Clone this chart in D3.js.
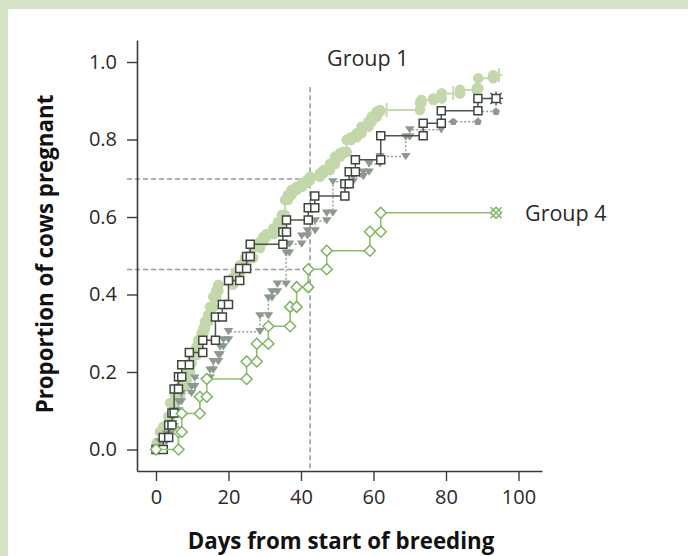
<!DOCTYPE html>
<html>
<head>
<meta charset="utf-8">
<script src="https://cdn.jsdelivr.net/npm/d3@7"></script>
<style>
  body { margin: 0; background: #fff; }
  svg { display: block; }
  text { font-family: "Open Sans", "Noto Sans", sans-serif; }
</style>
</head>
<body>
<div id="chart"></div>
<script>
// cumulative proportion pregnant: [day of event, proportion after event]
const group1Events = [
  [0.2, 0.017], [1.1, 0.046], [2, 0.059], [3.4, 0.085], [3.9, 0.12], [5.2, 0.14],
  [6.6, 0.162], [8, 0.179], [8.5, 0.2], [9.4, 0.222], [9.8, 0.244], [11.2, 0.265],
  [11.7, 0.283], [12.6, 0.3], [13.1, 0.313], [13.5, 0.33], [14.4, 0.347], [14.9, 0.368],
  [15.8, 0.394], [16.6, 0.41], [17.2, 0.425], [21.2, 0.443], [22.1, 0.458], [23.2, 0.476],
  [24.6, 0.494], [26.8, 0.52], [28.7, 0.536], [29.6, 0.549], [30.5, 0.556], [32.4, 0.571],
  [33.7, 0.587], [34.7, 0.605], [35.6, 0.644], [36.4, 0.657], [37.4, 0.67], [38.8, 0.678],
  [40.3, 0.688], [41.6, 0.695], [42.5, 0.704], [45.2, 0.713], [46.2, 0.721], [48, 0.737],
  [49.4, 0.756], [50.8, 0.765], [51.7, 0.768], [52.6, 0.799], [53.8, 0.806], [55.4, 0.816],
  [56.7, 0.833], [58.6, 0.846], [59.5, 0.859], [60.9, 0.872], [61.8, 0.876], [72.8, 0.894],
  [73.2, 0.902], [76.5, 0.906], [78.8, 0.919], [83.9, 0.928], [88.5, 0.932], [88.9, 0.958],
  [93, 0.966]
];
const group1Censored = [[63.6, 0.876], [82, 0.919], [94.6, 0.966]];
const group1End = 95.5;

const group2Events = [
  [2, 0.031], [3.5, 0.063], [4.4, 0.094], [5, 0.156], [6.2, 0.188], [7.1, 0.219],
  [9.2, 0.25], [12.9, 0.282], [16.4, 0.342], [18.3, 0.374], [20, 0.436], [23.1, 0.467],
  [25, 0.498], [26, 0.53], [35, 0.561], [36, 0.592], [42, 0.624], [43.8, 0.654],
  [52.1, 0.686], [53.3, 0.717], [55, 0.748], [62, 0.81], [73.7, 0.842], [78.7, 0.874],
  [88.8, 0.906]
];
const group2End = 93.8;

const group3Events = [
  [1.1, 0.02], [2.9, 0.04], [4, 0.059], [5, 0.1], [6.3, 0.123], [7, 0.145],
  [9.8, 0.162], [10.7, 0.184], [14.9, 0.205], [15.8, 0.227], [17.2, 0.244], [17.7, 0.265],
  [18.6, 0.283], [20, 0.304], [28.7, 0.345], [31, 0.391], [32, 0.407], [33.5, 0.427],
  [35.9, 0.507], [36.8, 0.53], [40.2, 0.551], [41.8, 0.564], [43.9, 0.59], [47.1, 0.61],
  [48.8, 0.691], [54.4, 0.704], [57.2, 0.716], [58.8, 0.737], [61.8, 0.756], [68.9, 0.806],
  [70, 0.825], [78.7, 0.846], [88.8, 0.872]
];
const group3Censored = [[82, 0.846]];
const group3End = 93.8;

const group4Events = [
  [6.2, 0.045], [7.1, 0.093], [12.1, 0.136], [14, 0.182], [25, 0.227], [27.8, 0.273],
  [31, 0.318], [37, 0.368], [38.8, 0.419], [42, 0.465], [47.1, 0.513], [59, 0.562],
  [62, 0.611]
];
const group4End = 93.8;

// reference lines
const refDay = 42.5;
const refLevels = [[0.698, 46], [0.4645, 42.5]];

const xTicks = [0, 20, 40, 60, 80, 100];
const yTicks = [0, 0.2, 0.4, 0.6, 0.8, 1.0];

// build the step path vertices from events
function stepVertices(events, endDay) {
  const pts = [[0, 0]];
  let prev = 0;
  events.forEach(([t, p]) => {
    pts.push([t, prev]);
    pts.push([t, p]);
    prev = p;
  });
  pts.push([endDay, prev]);
  return pts;
}

const w = 688;
const h = 556;

const svg = d3.select("#chart").append("svg")
  .attr("width", w)
  .attr("height", h);

// frame
svg.append("rect").attr("width", w).attr("height", h).attr("fill", "#d5e2c5");
svg.append("rect").attr("x", 8).attr("y", 9).attr("width", w - 8).attr("height", h - 9).attr("fill", "#fff");

// scales
const x = d3.scaleLinear().domain([-5.24, 106.48]).range([137, 542]);
const y = d3.scaleLinear().domain([-0.0555, 1.0568]).range([471, 40]);

const axisColor = "#3b3b3b";

// reference dashed lines (drawn under the curves)
const dash = "5,3";
svg.append("line")
  .attr("x1", x(refDay)).attr("x2", x(refDay))
  .attr("y1", y(0.935)).attr("y2", y.range()[0])
  .attr("stroke", "#9a9a9a").attr("stroke-width", 1.6).attr("stroke-dasharray", dash);
refLevels.forEach(([p, d]) => {
  svg.append("line")
    .attr("x1", 127).attr("x2", x(d))
    .attr("y1", y(p)).attr("y2", y(p))
    .attr("stroke", "#9a9a9a").attr("stroke-width", 1.6).attr("stroke-dasharray", dash);
});

// axes
const xAxis = d3.axisBottom(x).tickValues(xTicks).tickSizeInner(10).tickSizeOuter(0).tickPadding(9);
const gx = svg.append("g").attr("transform", `translate(0,${y.range()[0]})`).call(xAxis);
const yAxis = d3.axisLeft(y).tickValues(yTicks).tickFormat(d3.format(".1f")).tickSizeInner(10).tickSizeOuter(0).tickPadding(10);
const gy = svg.append("g").attr("transform", `translate(${x.range()[0]},0)`).call(yAxis);
[gx, gy].forEach(g => {
  g.select(".domain").attr("stroke", axisColor).attr("stroke-width", 1.6);
  g.selectAll(".tick line").attr("stroke", axisColor).attr("stroke-width", 1.4);
  g.selectAll(".tick text")
    .attr("fill", "#2a2a2a")
    .style("font-family", "'Open Sans', sans-serif")
    .style("font-size", "20px")
    .style("font-weight", 400);
});

// axis titles
svg.append("text")
  .text("Days from start of breeding")
  .attr("x", 341).attr("y", 549)
  .attr("text-anchor", "middle")
  .style("font-size", "22.3px").style("font-weight", 700).attr("fill", "#111");
svg.append("text")
  .text("Proportion of cows pregnant")
  .attr("transform", "translate(53,254) rotate(-90)")
  .attr("text-anchor", "middle")
  .style("font-size", "22.3px").style("font-weight", 700).attr("fill", "#111");

// marker shapes
const shapes = {
  circle: "M0,-5.3A5.3,5.3 0 1,1 0,5.3A5.3,5.3 0 1,1 0,-5.3Z",
  square: "M-4,-4H4V4H-4Z",
  triangle: "M-4.8,-3.6H4.8L0,3.6Z",
  diamond: "M0,-5.5L5.5,0L0,5.5L-5.5,0Z",
  dot: "M0,-4L3.8,-1.2L2.4,3.3H-2.4L-3.8,-1.2Z"
};

function drawSeries(events, endDay, opt) {
  const pts = stepVertices(events, endDay);
  const line = d3.line().x(d => x(d[0])).y(d => y(d[1]));
  const g = svg.append("g");
  g.append("path")
    .attr("d", line(pts))
    .attr("fill", "none")
    .attr("stroke", opt.lineColor)
    .attr("stroke-width", opt.lineWidth)
    .attr("stroke-dasharray", opt.dash || null);
  g.selectAll("path.mark")
    .data(opt.lastMarkerOff ? pts.slice(0, -1) : pts)
    .join("path")
    .attr("class", "mark")
    .attr("transform", d => `translate(${x(d[0])},${y(d[1])})`)
    .attr("d", d => shapes[opt.shape(d)])
    .attr("fill", opt.fill)
    .attr("stroke", opt.stroke)
    .attr("stroke-width", opt.strokeWidth);
  return g;
}

// group 1: light green circles
const g1 = drawSeries(group1Events, group1End, {
  lineColor: "#c6d9b0", lineWidth: 2, shape: () => "circle",
  fill: "#c3d7ab", stroke: "none", strokeWidth: 0, lastMarkerOff: true
});
g1.selectAll("line.censor")
  .data(group1Censored)
  .join("line")
  .attr("x1", d => x(d[0])).attr("x2", d => x(d[0]))
  .attr("y1", d => y(d[1]) - 7).attr("y2", d => y(d[1]) + 7)
  .attr("stroke", "#c6d9b0").attr("stroke-width", 2);

// group 3: grey triangles, dotted line; dots above 0.84
const g3 = drawSeries(group3Events, group3End, {
  lineColor: "#98a198", lineWidth: 1.5, dash: "2,2",
  shape: d => d[1] > 0.84 ? "dot" : "triangle",
  fill: "#8e998d", stroke: "none", strokeWidth: 0
});
g3.selectAll("path.cens")
  .data(group3Censored)
  .join("path")
  .attr("class", "cens")
  .attr("transform", d => `translate(${x(d[0])},${y(d[1])})`)
  .attr("d", shapes.dot)
  .attr("fill", "#8e998d");

// group 2: dark open squares
const g2 = drawSeries(group2Events, group2End, {
  lineColor: "#4b554b", lineWidth: 1.5, shape: () => "square",
  fill: "#fff", stroke: "#3e463e", strokeWidth: 1.5, lastMarkerOff: true
});
// censored end: square with spikes
const g2Last = [group2End, group2Events[group2Events.length - 1][1]];
g2.append("path")
  .attr("transform", `translate(${x(g2Last[0])},${y(g2Last[1])})`)
  .attr("d", "M0,-7V7M-7,0H7M-5.5,-5.5L5.5,5.5M-5.5,5.5L5.5,-5.5")
  .attr("stroke", "#3e463e").attr("stroke-width", 1.3);
g2.append("path")
  .attr("transform", `translate(${x(g2Last[0])},${y(g2Last[1])})`)
  .attr("d", shapes.square)
  .attr("fill", "#fff").attr("stroke", "#3e463e").attr("stroke-width", 1.5);

// group 4: green open diamonds
const g4 = drawSeries(group4Events, group4End, {
  lineColor: "#8dc06f", lineWidth: 1.6, shape: () => "diamond",
  fill: "#fff", stroke: "#7db55f", strokeWidth: 1.5
});
const g4Last = [group4End, group4Events[group4Events.length - 1][1]];
g4.append("path")
  .attr("transform", `translate(${x(g4Last[0])},${y(g4Last[1])})`)
  .attr("d", "M-5.5,-5.5L5.5,5.5M-5.5,5.5L5.5,-5.5")
  .attr("stroke", "#7db55f").attr("stroke-width", 1.4);

// group labels
svg.append("text").text("Group 1")
  .attr("x", 327).attr("y", 66)
  .style("font-size", "21.5px").style("font-weight", 400).attr("fill", "#2a2a2a");
svg.append("text").text("Group 4")
  .attr("x", 525).attr("y", 221)
  .style("font-size", "21.5px").style("font-weight", 400).attr("fill", "#2a2a2a");
</script>
</body>
</html>
